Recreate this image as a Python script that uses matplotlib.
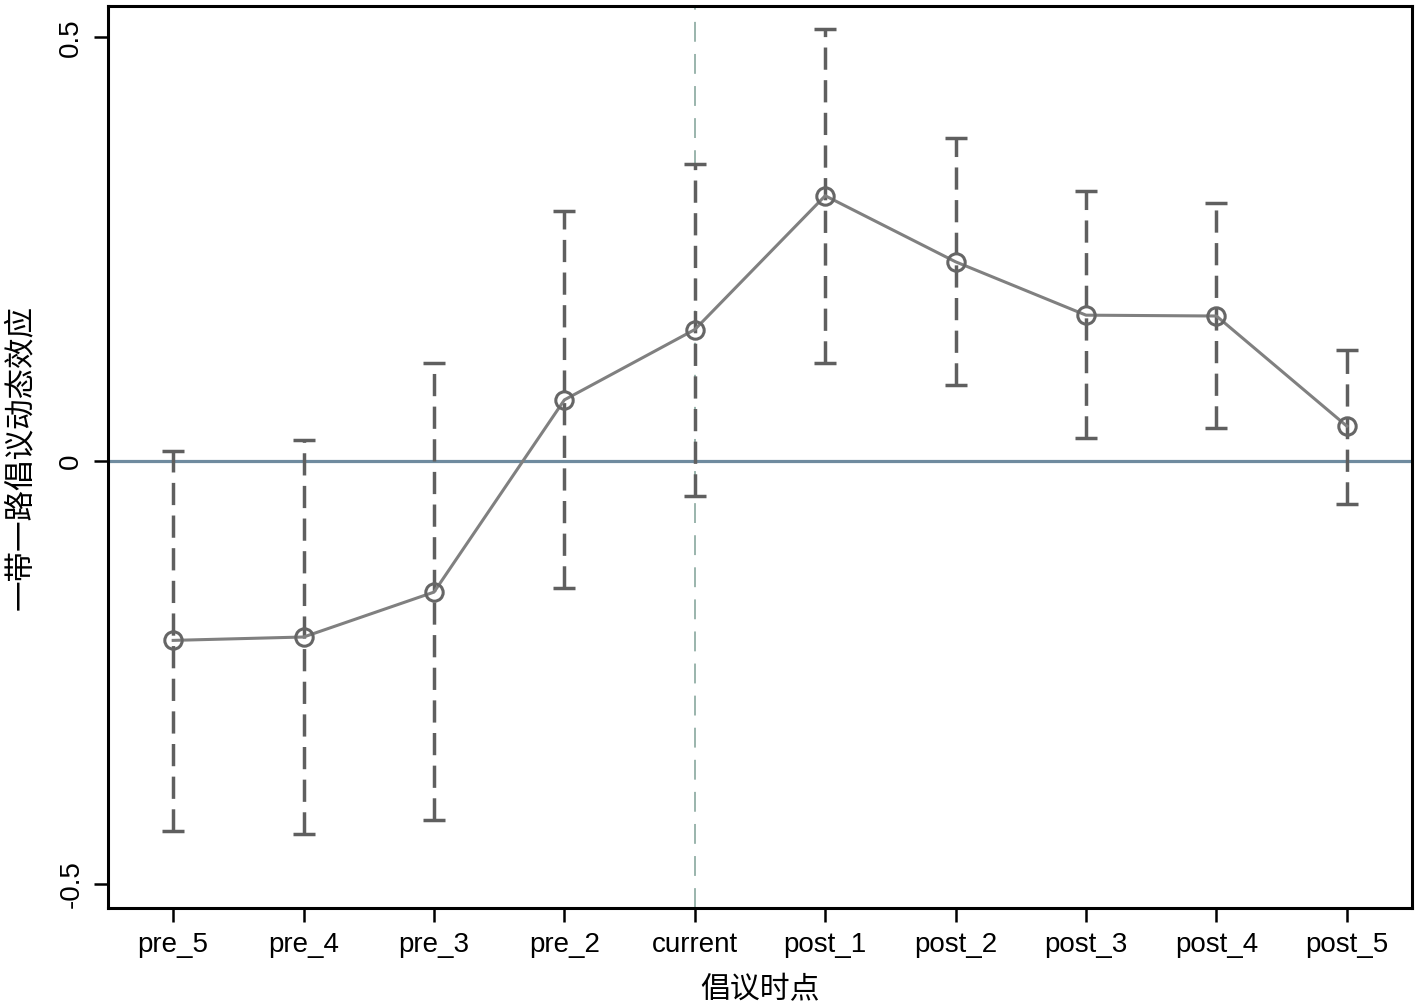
import numpy as np
import matplotlib
matplotlib.use("Agg")
import matplotlib.pyplot as plt

plt.rcParams["font.family"] = ["Liberation Sans", "Noto Sans CJK SC", "DejaVu Sans"]

# ---- data ----
periods = ["pre_5", "pre_4", "pre_3", "pre_2", "current",
           "post_1", "post_2", "post_3", "post_4", "post_5"]
coef    = [-0.212, -0.208, -0.155, 0.072, 0.155, 0.313, 0.235, 0.172, 0.171, 0.041]
ci_low  = [-0.437, -0.441, -0.424, -0.150, -0.042, 0.115, 0.090, 0.027, 0.039, -0.051]
ci_high = [0.012, 0.025, 0.115, 0.295, 0.351, 0.510, 0.381, 0.319, 0.305, 0.131]
yticks  = [-0.5, 0, 0.5]
event_idx = 4

C_LINE = "#808080"
C_BAR = "#5f5f5f"
C_ZERO = "#6f8b9f"
C_EVENT = "#7fa096"

x = np.arange(len(periods))
coef = np.array(coef)
lo = coef - np.array(ci_low)
hi = np.array(ci_high) - coef

fig = plt.figure(figsize=(14.17, 10.05), dpi=100)
ax = fig.add_axes([0.0762, 0.0965, 0.9203, 0.8975])

ax.axhline(0, color=C_ZERO, linewidth=2.3, zorder=1)
ax.axvline(event_idx, color=C_EVENT, linewidth=1.1,
           linestyle=(0, (13, 8)), zorder=1)

eb = ax.errorbar(x, coef, yerr=[lo, hi], fmt="none", ecolor=C_BAR,
                 elinewidth=2.5, capsize=8, capthick=2.5, zorder=2)
eb[2][0].set_linestyle((0, (6.4, 3.0)))

ax.plot(x, coef, color=C_LINE, linewidth=2.2, zorder=3)
ax.plot(x, coef, linestyle="none", marker="o", markersize=12.5,
        markerfacecolor="none", markeredgecolor="#666666",
        markeredgewidth=2.2, zorder=4)

ax.set_xlim(-0.5, len(periods) - 0.5)
ax.set_ylim(-0.528, 0.537)
ax.set_xticks(x)
ax.set_xticklabels(periods, fontsize=20)
ax.set_yticks(yticks)
ax.set_yticklabels(["-0.5", "0", "0.5"], fontsize=20,
                   rotation=90, va="center")

ax.tick_params(axis="both", length=10, width=1.8, direction="out",
               color="black", pad=7)
for sp in ax.spines.values():
    sp.set_linewidth(2.2)
    sp.set_color("black")

ax.set_xlabel("倡议时点", fontsize=21.5, labelpad=13)
ax.set_ylabel("一带一路倡议动态效应", fontsize=22, labelpad=16)

fig.savefig("out.png", dpi=100, facecolor="white")
